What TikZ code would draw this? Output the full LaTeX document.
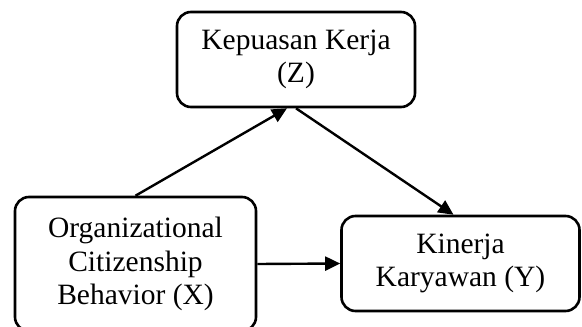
\documentclass[tikz,border=0pt]{standalone}
\usepackage{fontspec}
\setmainfont{Liberation Serif}
\usetikzlibrary{arrows.meta,calc}
\begin{document}
\begin{tikzpicture}[x=1pt,y=-1pt,
  box/.style={draw,line width=2.6pt,rounded corners=14pt,align=center,inner sep=0pt,
    font=\fontsize{29.5}{33.5}\selectfont},
  conn/.style={line width=2.4pt,-{Triangle[length=15pt,width=14pt]}}]
\useasboundingbox (0,0) rectangle (582,327);
\node[box,minimum width=238pt,minimum height=95pt] (Z) at (296,59.5) {Kepuasan Kerja\\(Z)};
\node[box,minimum width=241pt,minimum height=134pt] (X) at (135.5,264) {Organizational\\Citizenship\\Behavior (X)};
\node[box,minimum width=238pt,minimum height=95pt] (Y) at (460.5,263.5) {Kinerja\\Karyawan (Y)};
\draw[conn] (X.north) -- ($(Z.south)+(-9,0)$);
\draw[conn] (Z.south) -- ($(Y.north)+(-7,0)$);
\draw[conn] (X.east) -- (Y.west);
\end{tikzpicture}
\end{document}
